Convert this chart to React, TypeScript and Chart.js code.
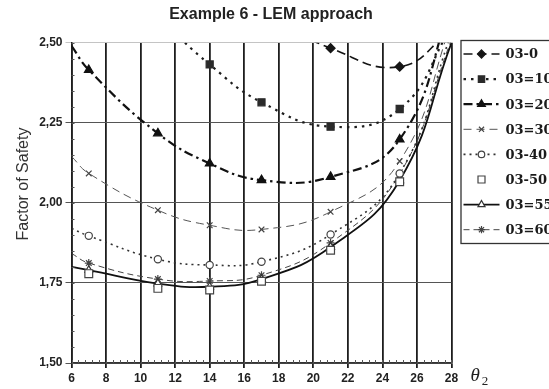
import React, { useEffect, useRef } from "react";
import { Chart, registerables } from "chart.js";

Chart.register(...registerables);

// ---------- text ----------
const TITLE = "Example 6 - LEM approach";
const Y_TITLE = "Factor of Safety";
const X_TITLE = "θ";
const X_TITLE_SUB = "2";

// ---------- axes ----------
const xMin = 6;
const xMax = 28;
const xStep = 2;
const yMin = 1.5;
const yMax = 2.5;
const yStep = 0.25;

// ---------- data ----------
// x positions at which values were read off the picture
const xValues = [6, 7, 11, 14, 17, 21, 25, 28];
// whether a marker is drawn at that position (the ends are trendline readings only)
const hasMarker = [false, true, true, true, true, true, true, false];

const s03_0 = [null, null, null, null, 2.59, 2.483, 2.425, 2.54];
const s03_10 = [null, null, 2.58, 2.432, 2.314, 2.238, 2.293, 2.55];
const s03_20 = [2.49, 2.415, 2.217, 2.123, 2.071, 2.081, 2.198, 2.62];
const s03_30 = [2.145, 2.092, 1.977, 1.93, 1.917, 1.972, 2.13, 2.56];
const s03_40 = [1.92, 1.897, 1.824, 1.806, 1.816, 1.901, 2.092, 2.53];
const s03_50 = [null, 1.779, 1.733, 1.728, 1.755, 1.852, 2.066, null];
const s03_55 = [1.8, 1.79, 1.748, 1.738, 1.762, 1.862, 2.07, 2.5];
const s03_60 = [1.842, 1.812, 1.762, 1.756, 1.774, 1.875, 2.09, 2.51];

const seriesNames = ["03-0", "03=10", "03=20", "03=30", "03-40", "03-50", "03=55", "03=60"];
const seriesValues = [s03_0, s03_10, s03_20, s03_30, s03_40, s03_50, s03_55, s03_60];

// ---------- styles ----------
type Style = {
  color: string;
  width: number;
  dash: number[];
  line: boolean;
  marker: string;
  radius: number;
  fill: string;
  mStroke: string;
};

const seriesStyles: Style[] = [
  { color: "#151515", width: 1.6, dash: [9, 5], line: true, marker: "rectRot", radius: 4.5, fill: "#151515", mStroke: "#151515" },
  { color: "#1c1c1c", width: 2.2, dash: [2.5, 5], line: true, marker: "rect", radius: 5, fill: "#2a2a2a", mStroke: "#2a2a2a" },
  { color: "#111111", width: 2.2, dash: [9, 4, 2.5, 4], line: true, marker: "triangle", radius: 5, fill: "#111111", mStroke: "#111111" },
  { color: "#555555", width: 1, dash: [8, 5], line: true, marker: "crossRot", radius: 4, fill: "#555555", mStroke: "#444444" },
  { color: "#333333", width: 1.6, dash: [2, 4], line: true, marker: "circle", radius: 3.6, fill: "#ffffff", mStroke: "#444444" },
  { color: "#333333", width: 1, dash: [], line: false, marker: "rect", radius: 5.5, fill: "#ffffff", mStroke: "#444444" },
  { color: "#111111", width: 1.8, dash: [], line: true, marker: "triangle", radius: 4.5, fill: "#ffffff", mStroke: "#333333" },
  { color: "#444444", width: 1, dash: [6, 4], line: true, marker: "star", radius: 4, fill: "#444444", mStroke: "#444444" },
];

const LEGEND_LINE_SAMPLE: boolean[] = [true, true, true, true, true, false, true, true];

function drawMarker(
  ctx: CanvasRenderingContext2D,
  style: string,
  x: number,
  y: number,
  r: number,
  fill: string,
  stroke: string
) {
  ctx.save();
  ctx.setLineDash([]);
  ctx.lineWidth = 1.2;
  ctx.fillStyle = fill;
  ctx.strokeStyle = stroke;
  ctx.beginPath();
  const third = (2 * Math.PI) / 3;
  switch (style) {
    case "rectRot":
      ctx.moveTo(x, y - r);
      ctx.lineTo(x + r, y);
      ctx.lineTo(x, y + r);
      ctx.lineTo(x - r, y);
      ctx.closePath();
      ctx.fill();
      ctx.stroke();
      break;
    case "rect": {
      const s = Math.SQRT1_2 * r;
      ctx.rect(x - s, y - s, 2 * s, 2 * s);
      ctx.fill();
      ctx.stroke();
      break;
    }
    case "triangle":
      for (let i = 0; i < 3; i++) {
        const a = i * third;
        const px = x + Math.sin(a) * r;
        const py = y - Math.cos(a) * r;
        if (i === 0) ctx.moveTo(px, py);
        else ctx.lineTo(px, py);
      }
      ctx.closePath();
      ctx.fill();
      ctx.stroke();
      break;
    case "circle":
      ctx.arc(x, y, r, 0, Math.PI * 2);
      ctx.fill();
      ctx.stroke();
      break;
    case "crossRot": {
      const d = r * Math.SQRT1_2;
      ctx.moveTo(x - d, y - d);
      ctx.lineTo(x + d, y + d);
      ctx.moveTo(x - d, y + d);
      ctx.lineTo(x + d, y - d);
      ctx.stroke();
      break;
    }
    case "star": {
      const d = r * Math.SQRT1_2;
      ctx.moveTo(x - d, y - d);
      ctx.lineTo(x + d, y + d);
      ctx.moveTo(x - d, y + d);
      ctx.lineTo(x + d, y - d);
      ctx.moveTo(x, y - r);
      ctx.lineTo(x, y + r);
      ctx.moveTo(x - r, y);
      ctx.lineTo(x + r, y);
      ctx.stroke();
      break;
    }
  }
  ctx.restore();
}

const overlayPlugin = {
  id: "overlay",
  afterDraw(chart: any) {
    const ctx: CanvasRenderingContext2D = chart.ctx;
    const { left, right, bottom } = chart.chartArea;
    const xs = chart.scales.x;
    const ys = chart.scales.y;
    ctx.save();

    // minor ticks on the bottom axis
    ctx.strokeStyle = "#555";
    ctx.lineWidth = 1;
    ctx.setLineDash([]);
    const xMinor = 0.4;
    for (let v = xMin; v <= xMax + 1e-6; v += xMinor) {
      const px = Math.round(xs.getPixelForValue(v)) + 0.5;
      ctx.beginPath();
      ctx.moveTo(px, bottom);
      ctx.lineTo(px, bottom - 3);
      ctx.stroke();
    }
    // minor ticks on the left axis
    const yMinor = 0.05;
    for (let v = yMin; v <= yMax + 1e-6; v += yMinor) {
      const py = Math.round(ys.getPixelForValue(v)) + 0.5;
      ctx.beginPath();
      ctx.moveTo(left, py);
      ctx.lineTo(left + 3, py);
      ctx.stroke();
    }

    // title
    ctx.fillStyle = "#222";
    ctx.font = 'bold 16px "Liberation Sans", Arial, sans-serif';
    ctx.textAlign = "center";
    ctx.textBaseline = "middle";
    ctx.fillText(TITLE, 271, 15);

    // y title
    ctx.save();
    ctx.translate(24, 184);
    ctx.rotate(-Math.PI / 2);
    ctx.font = '16px "Liberation Sans", Arial, sans-serif';
    ctx.fillStyle = "#333";
    ctx.fillText(Y_TITLE, 0, 0);
    ctx.restore();

    // x title (theta 2)
    ctx.textAlign = "left";
    ctx.textBaseline = "alphabetic";
    ctx.fillStyle = "#222";
    ctx.font = 'italic 19px "Liberation Serif", "DejaVu Serif", serif';
    ctx.fillText(X_TITLE, right + 19, 381);
    const tw = ctx.measureText(X_TITLE).width;
    ctx.font = '13px "Liberation Serif", "DejaVu Serif", serif';
    ctx.fillText(X_TITLE_SUB, right + 19 + tw + 2, 385);

    // legend
    const bx = right + 9;
    const by = 40;
    const bh = 203;
    ctx.fillStyle = "#fff";
    ctx.fillRect(bx, by, 200, bh);
    ctx.strokeStyle = "#333";
    ctx.lineWidth = 1.3;
    ctx.setLineDash([]);
    ctx.strokeRect(bx + 0.5, by + 0.5, 200, bh);
    const rowH = 25.1;
    seriesNames.forEach((name, i) => {
      const st = seriesStyles[i];
      const cy = by + 14 + i * rowH;
      const x0 = bx + 3;
      const x1 = bx + 39;
      if (LEGEND_LINE_SAMPLE[i]) {
        ctx.save();
        ctx.strokeStyle = st.color;
        ctx.lineWidth = st.width;
        ctx.setLineDash(st.dash);
        ctx.beginPath();
        ctx.moveTo(x0, cy);
        ctx.lineTo(x1, cy);
        ctx.stroke();
        ctx.restore();
      }
      drawMarker(ctx, st.marker, (x0 + x1) / 2, cy, st.radius * 0.9, st.fill, st.mStroke);
      ctx.fillStyle = "#1a1a1a";
      ctx.font = 'bold 13px "DejaVu Serif", "Liberation Serif", serif';
      ctx.textAlign = "left";
      ctx.textBaseline = "middle";
      ctx.fillText(name, x1 + 6, cy + 1);
    });

    ctx.restore();
  },
};

export default function App() {
  const ref = useRef<HTMLCanvasElement | null>(null);

  useEffect(() => {
    if (!ref.current) return;

    const datasets = seriesValues.map((vals, si) => {
      const st = seriesStyles[si];
      const pts: { x: number; y: number }[] = [];
      const radii: number[] = [];
      vals.forEach((v, i) => {
        if (v === null || v === undefined) return;
        pts.push({ x: xValues[i], y: v as number });
        radii.push(hasMarker[i] ? st.radius : 0);
      });
      return {
        label: seriesNames[si],
        data: pts,
        showLine: st.line,
        borderColor: st.color,
        borderWidth: st.width,
        borderDash: st.dash,
        pointStyle: st.marker,
        pointRadius: radii,
        pointHoverRadius: radii,
        pointBackgroundColor: st.fill,
        pointBorderColor: st.mStroke,
        pointBorderWidth: 1.2,
        tension: 0.45,
        fill: false,
        clip: 0,
      };
    });

    const chart = new Chart(ref.current, {
      type: "line",
      data: { datasets: datasets as any },
      plugins: [overlayPlugin],
      options: {
        animation: false,
        responsive: false,
        devicePixelRatio: 1,
        layout: { padding: { top: 42.7, right: 97.5, left: 0, bottom: 0 } },
        elements: { line: { capBezierPoints: false } as any },
        plugins: {
          legend: { display: false },
          title: { display: false },
          tooltip: { enabled: false },
        },
        scales: {
          x: {
            type: "linear",
            min: xMin,
            max: xMax,
            ticks: {
              stepSize: xStep,
              autoSkip: false,
              maxRotation: 0,
              color: "#222",
              padding: 3,
              font: { size: 12, weight: "bold", family: '"Liberation Sans", Arial, sans-serif' },
            },
            grid: { color: "#1e1e1e", lineWidth: 1.8, tickLength: 5, drawTicks: true },
            border: { display: true, color: "#333", width: 1.5 },
            afterFit: (s: any) => {
              s.height = 26;
            },
          },
          y: {
            type: "linear",
            min: yMin,
            max: yMax,
            ticks: {
              stepSize: yStep,
              color: "#222",
              padding: 3,
              font: { size: 12, weight: "bold", family: '"Liberation Sans", Arial, sans-serif' },
              callback: (v: any) => Number(v).toFixed(2).replace(".", ","),
            },
            grid: {
              color: (c: any) => (c.tick && c.tick.value >= yMax - 1e-6 ? "#c4c4c4" : "#555"),
              lineWidth: 1,
              tickLength: 6,
            },
            border: { display: true, color: "#1e1e1e", width: 1.5 },
            afterFit: (s: any) => {
              s.width = 71.5;
            },
          },
        },
      } as any,
    });

    return () => chart.destroy();
  }, []);

  return (
    <div style={{ position: "fixed", left: 0, top: 0, width: 549, height: 389, background: "#fff" }}>
      <canvas ref={ref} width={549} height={389} style={{ display: "block", width: 549, height: 389 }} />
    </div>
  );
}
